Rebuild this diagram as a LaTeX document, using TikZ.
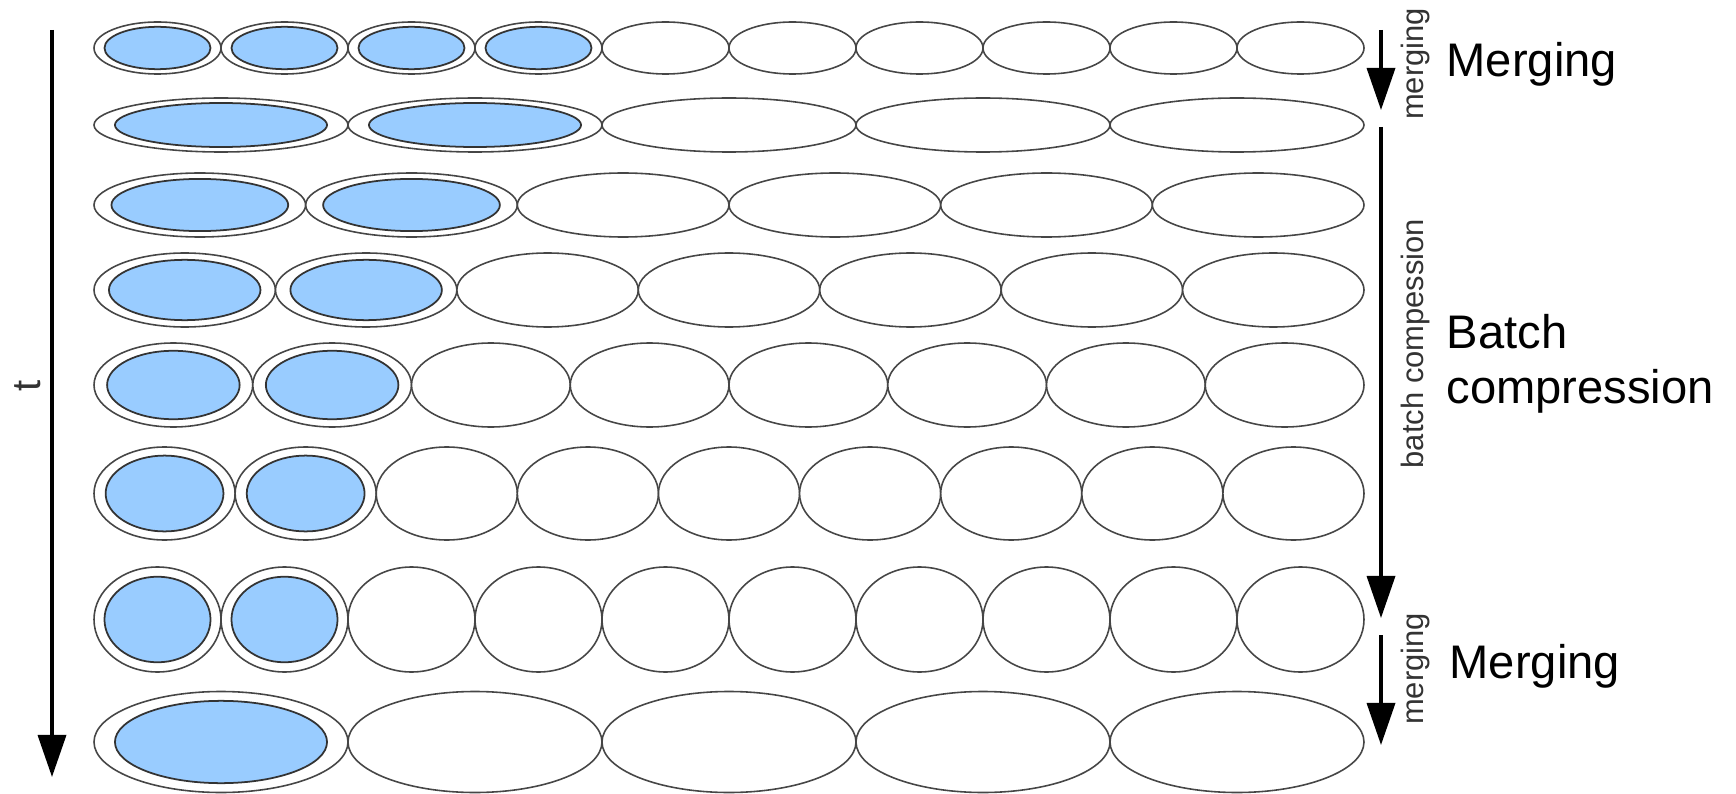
\documentclass[tikz,border=0pt]{standalone}
\usepackage{fontspec}
\setmainfont{Liberation Sans}
\usetikzlibrary{shapes.geometric,arrows.meta}
\definecolor{cellblue}{RGB}{153,204,255}
\definecolor{cellline}{RGB}{70,70,70}

\begin{document}
\begin{tikzpicture}[
  x=0.01cm, y=-0.01cm,
  cell/.style={ellipse, draw=cellline, line width=0.45pt, inner sep=0pt, fill=white},
  core/.style={ellipse, draw=black!80, line width=0.5pt, inner sep=0pt, fill=cellblue},
  tarr/.style={-{Triangle[length=4.2mm, width=2.8mm]}, line width=1pt},
  lbl/.style={font=\fontsize{8.8}{10}\selectfont, text=black!80, rotate=90, inner sep=0pt},
  big/.style={font=\fontsize{13.4}{15.4}\selectfont, inner sep=0pt, align=left}
]
  \useasboundingbox (0,0) rectangle (1736,794);

  % rows: cells / centre y / height / blue cells
  \foreach \n/\cy/\h/\k [count=\row] in {10/48/52/4, 5/125/54/2, 6/205/64/2, 7/290/74/2,
                                          8/385/84/2, 9/493.5/93/2, 10/619.5/105/2, 5/742/101/1}{
    \pgfmathsetmacro{\w}{1270/\n}
    \foreach \c in {1,...,\n}{
      \node[cell, minimum width=\w*0.01cm, minimum height=\h*0.01cm]
        (r\row c\c) at (94+\w*\c-\w/2, \cy) {};
      \ifnum\c>\k\relax\else
        \node[core, minimum width=0.835*\w*0.01cm, minimum height=0.815*\h*0.01cm]
          (r\row b\c) at (r\row c\c) {};
      \fi
    }
  }

  % time axis
  \coordinate (t0) at (52,30);
  \coordinate (t1) at (52,777);
  \draw[tarr] (t0) -- (t1);
  \node[lbl, font=\fontsize{11.4}{12}\selectfont] (tlbl) at (28,386) {t};

  % phases
  \coordinate (m1a) at (1381,30);
  \coordinate (m1b) at (1381,110);
  \coordinate (bca) at (1381,127);
  \coordinate (bcb) at (1381,618);
  \coordinate (m2a) at (1381,635);
  \coordinate (m2b) at (1381,745);
  \draw[tarr] (m1a) -- (m1b);
  \draw[tarr] (bca) -- (bcb);
  \draw[tarr] (m2a) -- (m2b);

  \node[lbl] (mlbl1) at (1415,64) {merging};
  \node[lbl] (bclbl) at (1415,343.5) {batch compession};
  \node[lbl] (mlbl2) at (1415,669) {merging};

  \node[big, anchor=base west] (merge1) at (1446,77) {Merging};
  \node[big, anchor=north west] (batch) at (1446,314) {Batch\\compression};
  \node[big, anchor=base west] (merge2) at (1449,678) {Merging};
\end{tikzpicture}
\end{document}
